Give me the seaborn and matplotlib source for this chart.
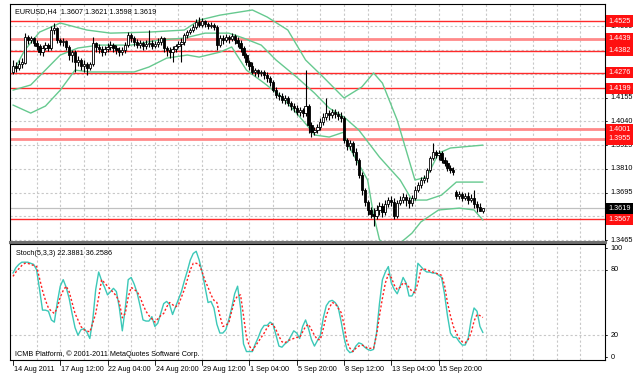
import matplotlib
matplotlib.use("Agg")
import matplotlib.pyplot as plt
import matplotlib.transforms as mtransforms
import numpy as np
import seaborn as sns

SYMBOL_TITLE = "EURUSD,H4  1.3607 1.3621 1.3598 1.3619"
STOCH_TITLE = "Stoch(5,3,3) 22.3881 36.2586"
COPYRIGHT = "ICMB Platform, \u00a9 2001-2011 MetaQuotes Software Corp."

# H4 candles
OPEN = [
    1.4279, 1.4308, 1.4298, 1.4317, 1.4322, 1.4448, 1.4433, 1.4443, 1.4419, 1.4404,
    1.4375, 1.4395, 1.4409, 1.4395, 1.4482, 1.4491, 1.4433, 1.4424, 1.4429, 1.4400,
    1.4361, 1.4375, 1.4327, 1.4337, 1.4308, 1.4317, 1.4298, 1.4317, 1.4419, 1.4400,
    1.4390, 1.4375, 1.4390, 1.4400, 1.4409, 1.4395, 1.4385, 1.4375, 1.4385, 1.4409,
    1.4458, 1.4443, 1.4424, 1.4409, 1.4419, 1.4404, 1.4414, 1.4419, 1.4404, 1.4414,
    1.4424, 1.4443, 1.4395, 1.4385, 1.4375, 1.4390, 1.4404, 1.4414, 1.4424, 1.4458,
    1.4472, 1.4482, 1.4496, 1.4520, 1.4506, 1.4525, 1.4511, 1.4501, 1.4506, 1.4496,
    1.4409, 1.4443, 1.4433, 1.4448, 1.4438, 1.4453, 1.4433, 1.4419, 1.4395, 1.4361,
    1.4327, 1.4308, 1.4279, 1.4288, 1.4274, 1.4279, 1.4264, 1.4249, 1.4230, 1.4191,
    1.4167, 1.4162, 1.4143, 1.4153, 1.4128, 1.4114, 1.4104, 1.4085, 1.4095, 1.4080,
    1.4114, 1.4022, 1.3988, 1.3998, 1.4012, 1.4037, 1.4061, 1.4080, 1.4070, 1.4085,
    1.4075, 1.4066, 1.4056, 1.3949, 1.3920, 1.3935, 1.3891, 1.3853, 1.3780, 1.3707,
    1.3649, 1.3611, 1.3591, 1.3582, 1.3611, 1.3630, 1.3601, 1.3640, 1.3659, 1.3649,
    1.3582, 1.3644, 1.3659, 1.3674, 1.3659, 1.3644, 1.3669, 1.3707, 1.3732, 1.3756,
    1.3766, 1.3804, 1.3862, 1.3891, 1.3877, 1.3886, 1.3853, 1.3838, 1.3814, 1.3804,
    1.3698, 1.3678, 1.3688, 1.3669, 1.3678, 1.3659, 1.3669, 1.3640, 1.3625, 1.3607,
]
HIGH = [
    1.4337, 1.4327, 1.4337, 1.4346, 1.4467, 1.4458, 1.4453, 1.4448, 1.4433, 1.4414,
    1.4409, 1.4424, 1.4419, 1.4501, 1.4516, 1.4496, 1.4443, 1.4443, 1.4433, 1.4409,
    1.4385, 1.4385, 1.4356, 1.4346, 1.4337, 1.4327, 1.4327, 1.4448, 1.4424, 1.4414,
    1.4404, 1.4404, 1.4419, 1.4429, 1.4419, 1.4409, 1.4400, 1.4400, 1.4424, 1.4472,
    1.4467, 1.4453, 1.4438, 1.4433, 1.4429, 1.4433, 1.4482, 1.4433, 1.4429, 1.4443,
    1.4453, 1.4448, 1.4404, 1.4400, 1.4404, 1.4414, 1.4429, 1.4443, 1.4467, 1.4482,
    1.4491, 1.4511, 1.4535, 1.4545, 1.4540, 1.4530, 1.4520, 1.4520, 1.4516, 1.4506,
    1.4458, 1.4458, 1.4462, 1.4458, 1.4467, 1.4462, 1.4448, 1.4433, 1.4404, 1.4370,
    1.4337, 1.4327, 1.4298, 1.4293, 1.4288, 1.4288, 1.4279, 1.4259, 1.4240, 1.4206,
    1.4182, 1.4177, 1.4167, 1.4162, 1.4138, 1.4128, 1.4119, 1.4109, 1.4104, 1.4288,
    1.4124, 1.4037, 1.4012, 1.4027, 1.4056, 1.4080, 1.4153, 1.4095, 1.4099, 1.4099,
    1.4090, 1.4085, 1.4066, 1.3959, 1.3949, 1.3945, 1.3911, 1.3862, 1.3795, 1.3717,
    1.3659, 1.3625, 1.3620, 1.3635, 1.3649, 1.3644, 1.3659, 1.3674, 1.3678, 1.3669,
    1.3659, 1.3678, 1.3693, 1.3688, 1.3674, 1.3683, 1.3727, 1.3746, 1.3770, 1.3780,
    1.3814, 1.3872, 1.3935, 1.3901, 1.3901, 1.3896, 1.3867, 1.3853, 1.3828, 1.3819,
    1.3707, 1.3703, 1.3698, 1.3693, 1.3698, 1.3688, 1.3707, 1.3654, 1.3644, 1.3621,
]
LOW = [
    1.4269, 1.4279, 1.4288, 1.4298, 1.4317, 1.4414, 1.4419, 1.4404, 1.4385, 1.4361,
    1.4356, 1.4385, 1.4380, 1.4385, 1.4462, 1.4419, 1.4409, 1.4404, 1.4385, 1.4337,
    1.4327, 1.4279, 1.4308, 1.4288, 1.4279, 1.4264, 1.4288, 1.4308, 1.4375, 1.4370,
    1.4356, 1.4361, 1.4375, 1.4385, 1.4375, 1.4366, 1.4356, 1.4361, 1.4370, 1.4400,
    1.4424, 1.4404, 1.4395, 1.4395, 1.4385, 1.4390, 1.4400, 1.4390, 1.4395, 1.4400,
    1.4409, 1.4375, 1.4356, 1.4346, 1.4327, 1.4375, 1.4395, 1.4327, 1.4409, 1.4443,
    1.4462, 1.4472, 1.4487, 1.4496, 1.4496, 1.4496, 1.4487, 1.4491, 1.4482, 1.4385,
    1.4400, 1.4414, 1.4424, 1.4419, 1.4429, 1.4414, 1.4400, 1.4375, 1.4346, 1.4312,
    1.4288, 1.4269, 1.4259, 1.4254, 1.4259, 1.4245, 1.4230, 1.4211, 1.4182, 1.4153,
    1.4143, 1.4128, 1.4124, 1.4114, 1.4095, 1.4085, 1.4070, 1.4066, 1.4061, 1.4066,
    1.3983, 1.3964, 1.3974, 1.3983, 1.3998, 1.4022, 1.4046, 1.4046, 1.4056, 1.4056,
    1.4046, 1.4037, 1.3935, 1.3901, 1.3901, 1.3872, 1.3828, 1.3766, 1.3683, 1.3630,
    1.3587, 1.3572, 1.3533, 1.3567, 1.3587, 1.3577, 1.3587, 1.3625, 1.3630, 1.3567,
    1.3572, 1.3635, 1.3644, 1.3630, 1.3620, 1.3630, 1.3659, 1.3698, 1.3717, 1.3741,
    1.3746, 1.3795, 1.3853, 1.3862, 1.3853, 1.3838, 1.3823, 1.3799, 1.3790, 1.3780,
    1.3664, 1.3664, 1.3654, 1.3659, 1.3640, 1.3649, 1.3620, 1.3601, 1.3606, 1.3598,
]
CLOSE = [
    1.4308, 1.4298, 1.4317, 1.4327, 1.4448, 1.4433, 1.4443, 1.4419, 1.4404, 1.4375,
    1.4395, 1.4409, 1.4395, 1.4482, 1.4491, 1.4433, 1.4424, 1.4429, 1.4400, 1.4361,
    1.4375, 1.4327, 1.4337, 1.4308, 1.4317, 1.4298, 1.4317, 1.4419, 1.4400, 1.4390,
    1.4375, 1.4390, 1.4400, 1.4409, 1.4395, 1.4385, 1.4375, 1.4385, 1.4409, 1.4458,
    1.4443, 1.4424, 1.4409, 1.4419, 1.4404, 1.4414, 1.4419, 1.4404, 1.4414, 1.4424,
    1.4443, 1.4395, 1.4385, 1.4375, 1.4390, 1.4404, 1.4414, 1.4424, 1.4458, 1.4472,
    1.4482, 1.4496, 1.4520, 1.4506, 1.4525, 1.4511, 1.4501, 1.4506, 1.4496, 1.4409,
    1.4443, 1.4433, 1.4448, 1.4438, 1.4453, 1.4433, 1.4419, 1.4395, 1.4361, 1.4327,
    1.4308, 1.4279, 1.4288, 1.4274, 1.4279, 1.4264, 1.4249, 1.4230, 1.4191, 1.4167,
    1.4162, 1.4143, 1.4153, 1.4128, 1.4114, 1.4104, 1.4085, 1.4095, 1.4080, 1.4114,
    1.4022, 1.3988, 1.3998, 1.4012, 1.4037, 1.4061, 1.4080, 1.4070, 1.4085, 1.4075,
    1.4066, 1.4056, 1.3949, 1.3920, 1.3935, 1.3891, 1.3853, 1.3780, 1.3707, 1.3649,
    1.3611, 1.3591, 1.3582, 1.3611, 1.3630, 1.3601, 1.3640, 1.3659, 1.3649, 1.3582,
    1.3644, 1.3659, 1.3674, 1.3659, 1.3644, 1.3669, 1.3707, 1.3732, 1.3756, 1.3766,
    1.3804, 1.3862, 1.3891, 1.3877, 1.3886, 1.3853, 1.3838, 1.3814, 1.3804, 1.3795,
    1.3678, 1.3688, 1.3669, 1.3678, 1.3659, 1.3669, 1.3640, 1.3625, 1.3607, 1.3619,
]

# Bollinger bands, read at a few bars
UPPER_BARS = [0, 4, 9, 16, 25, 33, 46, 58, 63, 70, 81, 86, 93, 99, 105, 112, 118, 122,
              125, 130, 136, 140, 144, 148, 159]
UPPER_BAND = [1.4279, 1.4385, 1.4472, 1.4516, 1.4482, 1.4467, 1.4472, 1.4482, 1.4530,
              1.4554, 1.4579, 1.4545, 1.4482, 1.4337, 1.4254, 1.4153, 1.4206, 1.4274,
              1.4225, 1.4046, 1.3756, 1.3770, 1.3886, 1.3911, 1.3925]
MID_BARS = [0, 6, 16, 22, 29, 40, 49, 58, 65, 73, 78, 84, 89, 96, 102, 107, 112, 117,
            124, 131, 135, 140, 145, 150, 159]
MID_BAND = [1.4191, 1.4216, 1.4361, 1.4395, 1.4409, 1.4409, 1.4433, 1.4443, 1.4467,
            1.4467, 1.4443, 1.4409, 1.4337, 1.4254, 1.4177, 1.4104, 1.4061, 1.3998,
            1.3867, 1.3756, 1.3659, 1.3659, 1.3683, 1.3746, 1.3746]
LOWER_BARS = [0, 6, 11, 16, 21, 26, 33, 41, 46, 52, 59, 63, 70, 74, 79, 85, 91, 95, 100,
              102, 107, 112, 113, 120, 122, 124, 128, 131, 135, 138, 144, 151, 156, 159]
LOWER_BAND = [1.4119, 1.4080, 1.4114, 1.4191, 1.4288, 1.4279, 1.4279, 1.4279, 1.4303,
              1.4346, 1.4361, 1.4351, 1.4375, 1.4400, 1.4288, 1.4225, 1.4157, 1.4095,
              1.4012, 1.3974, 1.3964, 1.3988, 1.3935, 1.3756, 1.3587, 1.3467, 1.3420,
              1.3451, 1.3499, 1.3553, 1.3611, 1.3620, 1.3611, 1.3562]

STOCH_MAIN = [
    77, 82, 85, 87, 87, 87, 86, 85, 80, 62, 43, 43, 42, 34, 32, 50, 65, 71, 64, 54,
    40, 27, 20, 25, 26, 23, 17, 34, 62, 78, 70, 64, 57, 60, 63, 60, 45, 24, 45, 71,
    73, 67, 59, 47, 34, 33, 33, 37, 28, 31, 40, 49, 51, 48, 39, 46, 53, 60, 70, 79,
    89, 95, 97, 89, 78, 64, 50, 51, 45, 30, 22, 22, 25, 34, 45, 58, 65, 45, 12, 5,
    5, 5, 12, 18, 25, 29, 29, 32, 30, 20, 10, 9, 12, 14, 19, 24, 22, 17, 28, 34,
    26, 16, 10, 15, 20, 36, 47, 51, 52, 50, 46, 33, 18, 7, 4, 5, 10, 13, 12, 9,
    7, 6, 7, 22, 49, 71, 78, 83, 68, 62, 58, 65, 73, 68, 56, 56, 61, 86, 83, 80,
    78, 78, 77, 77, 75, 73, 58, 38, 22, 18, 18, 14, 11, 11, 17, 34, 45, 42, 28, 22.39,
]
STOCH_SIGNAL = [
    74, 78, 81, 84, 86, 86, 85, 84, 83, 72, 61, 52, 45, 42, 40, 45, 55, 61, 65, 60,
    50, 40, 34, 28, 25, 24, 23, 31, 40, 55, 71, 68, 65, 62, 59, 56, 50, 36, 40, 55,
    64, 62, 60, 55, 48, 42, 38, 35, 32, 35, 38, 40, 46, 50, 48, 46, 48, 55, 62, 71,
    80, 86, 86, 85, 78, 70, 64, 57, 52, 50, 38, 28, 29, 31, 42, 52, 56, 57, 38, 18,
    10, 6, 10, 14, 18, 22, 27, 30, 30, 25, 19, 14, 13, 15, 16, 17, 18, 18, 23, 28,
    30, 25, 20, 16, 16, 26, 38, 45, 50, 49, 45, 41, 30, 14, 8, 5, 8, 10, 11, 10,
    8, 8, 8, 20, 38, 54, 68, 76, 73, 66, 62, 64, 68, 67, 64, 60, 59, 68, 80, 81,
    80, 79, 78, 77, 76, 75, 66, 50, 38, 28, 22, 17, 14, 13, 16, 22, 33, 39, 38, 36.26,
]

# horizontal levels drawn on the chart
LEVELS = [1.4525, 1.4439, 1.4382, 1.4276, 1.4199, 1.4001, 1.3955, 1.3567]
SOFT_LEVELS = [1.4439, 1.4001, 1.3955]
LAST_PRICE = 1.3619
PRICE_GRID = [1.4500, 1.4385, 1.4270, 1.4155, 1.4040, 1.3925, 1.3810, 1.3695, 1.3580, 1.3465]
# grid values whose labels are not covered by a level box
PRICE_LABELS = [1.4500, 1.4155, 1.4040, 1.3925, 1.3810, 1.3695, 1.3465]
STOCH_TICKS = [100, 80, 20, 0]
STOCH_LEVELS = [80, 20]
DATE_LABELS = ["14 Aug 2011", "17 Aug 12:00", "22 Aug 04:00", "24 Aug 20:00",
               "29 Aug 12:00", "1 Sep 04:00", "5 Sep 20:00", "8 Sep 12:00",
               "13 Sep 04:00", "15 Sep 20:00"]
BARS_PER_LABEL = 16
BARS_PER_GRID = 8

sns.set_style("white")
plt.rcParams["font.family"] = ["Liberation Sans", "DejaVu Sans"]
FS = 5.2

W, H = 641, 386
fig = plt.figure(figsize=(W / 100, H / 100), dpi=100)
fig.patch.set_facecolor("white")


def box(x0, y0, x1, y1):
    return [x0 / W, 1 - y1 / H, (x1 - x0) / W, (y1 - y0) / H]


ax = fig.add_axes(box(10, 4, 605, 242))
ax2 = fig.add_axes(box(10, 244, 605, 360))

xmin, xmax = -1.0, 200.3
grid_kw = dict(color="#c8c8c8", lw=0.8, ls=(0, (2, 2)), zorder=0)
for a in (ax, ax2):
    a.set_xlim(xmin, xmax)
    a.set_xticks([])
    a.set_yticks([])
    for s in a.spines.values():
        s.set_color("#000000")
        s.set_linewidth(0.8)
    for gx in range(BARS_PER_GRID, 200, BARS_PER_GRID):
        a.axvline(gx, **grid_kw)
ax.spines["bottom"].set_linewidth(2.2)
ax.spines["bottom"].set_color("#707070")

ax.set_ylim(1.3456, 1.4608)
for p in PRICE_GRID:
    ax.axhline(p, **grid_kw)

bars = np.arange(len(CLOSE))
o = np.array(OPEN)
c = np.array(CLOSE)
ax.vlines(bars, LOW, HIGH, color="black", lw=0.8, zorder=3)
bull = c >= o
ax.bar(bars[bull], (c - o)[bull], bottom=o[bull], width=0.75, color="white",
       edgecolor="black", linewidth=0.6, zorder=4)
ax.bar(bars[~bull], (o - c)[~bull], bottom=c[~bull], width=0.75, color="black",
       edgecolor="black", linewidth=0.6, zorder=4)

band_color = "#66c98f"
sns.lineplot(x=UPPER_BARS, y=UPPER_BAND, ax=ax, color=band_color, lw=1.0, zorder=2)
sns.lineplot(x=MID_BARS, y=MID_BAND, ax=ax, color=band_color, lw=1.0, zorder=2)
sns.lineplot(x=LOWER_BARS, y=LOWER_BAND, ax=ax, color=band_color, lw=1.0, zorder=2)

for lv in LEVELS:
    if lv in SOFT_LEVELS:
        ax.axhline(lv, color="#ff8a8a", lw=2.0, zorder=1)
    else:
        ax.axhline(lv, color="#ff2a2a", lw=1.0, zorder=1)
ax.axhline(LAST_PRICE, color="#c0c0c0", lw=0.9, zorder=1)

trans = mtransforms.blended_transform_factory(ax.transAxes, ax.transData)
for p in PRICE_GRID:
    ax.plot([1.0, 1.004], [p, p], transform=trans, color="black", lw=0.6, clip_on=False)
for p in PRICE_LABELS:
    ax.text(1.009, p, f"{p:.4f}", transform=trans, fontsize=FS, va="center",
            ha="left", color="black", clip_on=False)
for lv in LEVELS:
    ax.text(1.006, lv, f"{lv:.4f}", transform=trans, fontsize=FS, va="center",
            ha="left", color="white", clip_on=False,
            bbox=dict(boxstyle="square,pad=0.3", fc="#ff1010", ec="none"), zorder=10)
ax.text(1.006, LAST_PRICE, f"{LAST_PRICE:.4f}", transform=trans, fontsize=FS,
        va="center", ha="left", color="white", clip_on=False,
        bbox=dict(boxstyle="square,pad=0.3", fc="black", ec="none"), zorder=10)

ax.text(0.008, 0.985, SYMBOL_TITLE, transform=ax.transAxes, fontsize=FS,
        va="top", ha="left", color="black")

# stochastic panel
ax2.set_ylim(-2.75, 103.7)
for lv in STOCH_LEVELS:
    ax2.axhline(lv, **grid_kw)
sns.lineplot(x=bars, y=STOCH_MAIN, ax=ax2, color="#3cc8b8", lw=1.0, zorder=3)
sns.lineplot(x=bars, y=STOCH_SIGNAL, ax=ax2, color="#ff2020", lw=1.0,
             ls=(0, (1.5, 1.5)), zorder=4)
trans2 = mtransforms.blended_transform_factory(ax2.transAxes, ax2.transData)
for v in STOCH_TICKS:
    ax2.text(1.009, v, str(v), transform=trans2, fontsize=FS, va="center",
             ha="left", color="black", clip_on=False)
    ax2.plot([1.0, 1.004], [v, v], transform=trans2, color="black", lw=0.6, clip_on=False)
ax2.text(0.01, 0.95, STOCH_TITLE, transform=ax2.transAxes, fontsize=FS,
         va="top", ha="left", color="black")
ax2.text(0.008, 0.02, COPYRIGHT, transform=ax2.transAxes, fontsize=FS,
         va="bottom", ha="left", color="black")

trans3 = mtransforms.blended_transform_factory(ax2.transData, ax2.transAxes)
for k, lab in enumerate(DATE_LABELS):
    bx = k * BARS_PER_LABEL
    ax2.plot([bx, bx], [0, -0.04], transform=trans3, color="black", lw=0.6, clip_on=False)
    ax2.text(bx + 0.3, -0.05, lab, transform=trans3, fontsize=FS, va="top",
             ha="left", color="black", clip_on=False)

fig.savefig("out.png", dpi=100, facecolor="white")
